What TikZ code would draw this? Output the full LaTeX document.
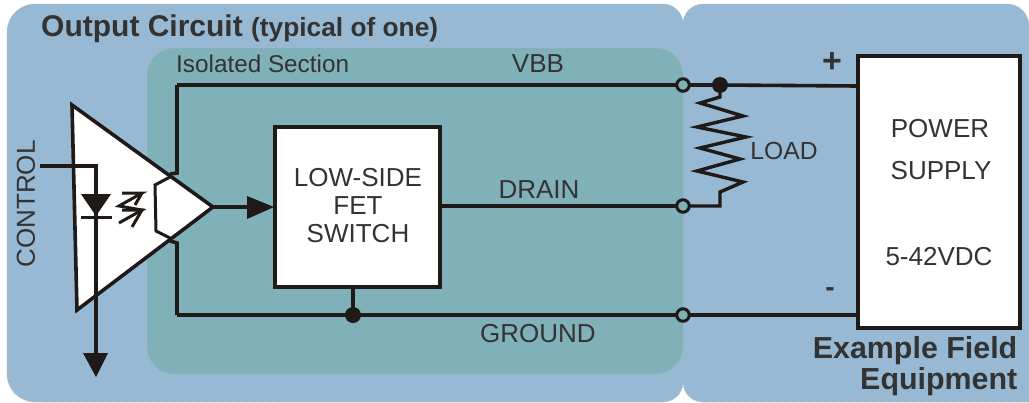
\documentclass[tikz,border=0pt]{standalone}
\usepackage{fontspec}
\setmainfont{Liberation Sans}
\definecolor{panel}{HTML}{98B9D4}
\definecolor{iso}{HTML}{80B1B9}
\definecolor{ink}{HTML}{1F1A17}
\definecolor{txt}{HTML}{333333}
\tikzset{
  panelbox/.style={fill=panel,draw=black!30,densely dotted,line width=0.6pt},
  wire/.style={draw=ink,line width=3.6pt,line join=miter},
  thin wire/.style={draw=ink,line width=3pt},
  whitebox/.style={draw=ink,fill=white,line width=4pt,inner sep=0pt,outer sep=0pt,anchor=north west},
  term/.style={circle,draw=ink,fill=iso,line width=3pt,minimum size=12.5pt,inner sep=0pt},
  jdot/.style={circle,fill=ink,minimum size=16pt,inner sep=0pt},
  lbl/.style={text=txt,font=\fontsize{26}{28}\selectfont,inner sep=0pt},
  boldlbl/.style={text=txt,font=\fontsize{30}{32}\selectfont\bfseries,inner sep=0pt},
  head/.style={fill=ink,draw=none}
}
\begin{document}
\begin{tikzpicture}[x=1pt,y=-1pt]
\useasboundingbox (0,0) rectangle (1029,402);
\fill[white] (0,0) rectangle (1029,402);
% panels
\path[panelbox] (300,402) [rounded corners=28pt] -- (7,402) -- (7,4) [rounded corners=20pt] -- (683,4) -- (683,402) -- cycle;
\path[panelbox] (860,4) [rounded corners=20pt] -- (683,4) -- (683,402) [sharp corners] -- (1029,402) -- (1029,40) [rounded corners=22pt] -- (1029,4) -- cycle;
\path[fill=iso,draw=black!30,densely dotted,line width=0.6pt,rounded corners=27pt] (147,200) -- (147,48) -- (683,48) -- (683,374) -- (147,374) -- cycle;
% named anchors
\coordinate (vbbcorner) at (177,85);
\coordinate (gndcorner) at (177,315);
\coordinate (topstub) at (170,174);
\coordinate (botstub) at (170,241);
\coordinate (ctrl) at (40,166);
\coordinate (ctrlturn) at (96,166);
\coordinate (down) at (96,354);
\coordinate (tip) at (213,207);
% optocoupler
\draw[wire,fill=white,line join=miter] (72,105) -- (tip) -- (77,310) -- cycle;
\draw[wire] (topstub) -- (177,173) -- (vbbcorner);
\draw[wire] (botstub) -- (177,243) -- (gndcorner);
\draw[thin wire] (170,177) -- (155,185) -- (156,231) -- (170,238);
\draw[wire] (ctrl) -- (ctrlturn) -- (down);
\fill[head] (83,353) -- (108,353) -- (96,377) -- cycle;
\fill[head] (81,194) -- (111,194) -- (96,216) -- cycle;
\draw[thin wire] (81,217) -- (112,217);
\draw[thin wire] (122,193) -- (142,193) -- (119,206) -- (142,210) -- (119,223);
\draw[thin wire] (142,193) -- (135,205);
\draw[thin wire] (122,210) -- (142,210) -- (132,227);
% boxes
\node[whitebox,minimum width=165pt,minimum height=160pt] (fet) at (275,127) {};
\node[whitebox,minimum width=162pt,minimum height=272pt] (psu) at (857.5,56) {};
% terminals and joins
\coordinate (vbbout) at (683,85);
\coordinate (drainout) at (683,206);
\coordinate (gndout) at (683,315);
\coordinate (vj) at (720,85);
\coordinate (gj) at (353,315);
\coordinate (dr) at (720,206);
% wires
\draw[wire] (vbbcorner) -- (vbbout) -- (vj) -- (psu.west |- 0,86);
\draw[wire] (gndcorner) -- (gndout) -- (psu.west |- 0,315);
\draw[wire] (fet.east |- drainout) -- (drainout);
\draw[wire] (gj) -- (fet.south -| gj);
\draw[wire] (tip) -- (250,207);
\fill[head] (247,196) -- (274,207) -- (247,219) -- cycle;
\draw[wire,line width=3.4pt] (vj) -- (720,97) -- (700,103) -- (743,116) -- (697,127) -- (746,137) -- (700,148) -- (740,159) -- (697,171) -- (743,182) -- (720,192) -- (dr) -- (drainout);
\node[term] (t1) at (vbbout) {};
\node[term] (t2) at (drainout) {};
\node[term] (t3) at (gndout) {};
\node[jdot] (j1) at (vj) {};
\node[jdot] (j2) at (gj) {};
% text
\node[boldlbl,anchor=base west,font=\fontsize{30}{32}\selectfont\bfseries] (title) at (41,36) {Output Circuit {\fontsize{26.3}{28}\selectfont(typical of one)}};
\node[lbl,anchor=base west,font=\fontsize{24.3}{26}\selectfont] (isol) at (176,72) {Isolated Section};
\node[lbl] (vbb) at (538,64) {VBB};
\node[lbl] (drain) at (539,190) {DRAIN};
\node[lbl] (ground) at (538,334) {GROUND};
\node[lbl,rotate=90] (control) at (26,204) {CONTROL};
\node[lbl] (l1) at (358,178) {LOW-SIDE};
\node[lbl] (l2) at (358,206) {FET};
\node[lbl] (l3) at (358,234) {SWITCH};
\node[lbl,font=\fontsize{24.7}{26}\selectfont] (load) at (784,151) {LOAD};
\node[lbl] (p1) at (940,129) {POWER};
\node[lbl] (p2) at (941,171) {SUPPLY};
\node[lbl] (p3) at (939,257) {5-42VDC};
\node[boldlbl,anchor=base east,font=\fontsize{30.4}{32}\selectfont\bfseries] (ex1) at (1017.5,358) {Example Field};
\node[boldlbl,anchor=base east,font=\fontsize{30.4}{32}\selectfont\bfseries] (ex2) at (1017.5,389) {Equipment};
\node[lbl,font=\fontsize{34}{34}\selectfont\bfseries] (plus) at (832,63) {+};
\node[lbl,font=\fontsize{28}{28}\selectfont\bfseries] (minus) at (830,292) {-};
\end{tikzpicture}
\end{document}
